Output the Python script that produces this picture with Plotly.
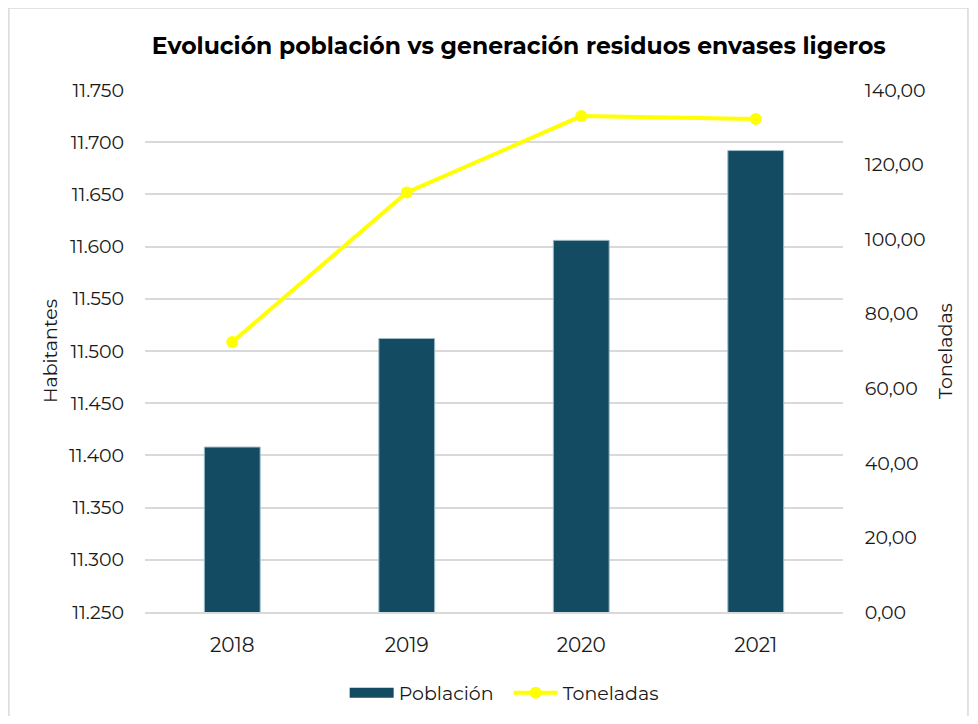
import plotly.graph_objects as go

# Data
years = ["2018", "2019", "2020", "2021"]
poblacion = [11408, 11512, 11606, 11692]
toneladas = [72.4, 112.5, 133.0, 132.2]

FONT = "Montserrat, Noto Sans, sans-serif"
BAR_COLOR = "#134B63"
LINE_COLOR = "#FFFF00"
GRID = "#D9D9D9"

fig = go.Figure()

fig.add_trace(go.Bar(
    x=years,
    y=poblacion,
    name="Población",
    marker=dict(color=BAR_COLOR, line=dict(color="#9FBCC8", width=1)),
    width=0.32,
    showlegend=False,
    yaxis="y",
))

# legend-only entry so the bar swatch is a wide block like the original
fig.add_trace(go.Scatter(
    x=[None], y=[None],
    name="Población",
    mode="lines",
    line=dict(color=BAR_COLOR, width=12),
    yaxis="y",
))

fig.add_trace(go.Scatter(
    x=years,
    y=toneladas,
    name="Toneladas",
    mode="lines+markers",
    line=dict(color=LINE_COLOR, width=4),
    marker=dict(color=LINE_COLOR, size=12),
    yaxis="y2",
))

# light frame around the whole chart
fig.add_shape(type="rect", xref="paper", yref="paper",
              x0=-0.195, x1=1.179, y0=-0.3, y1=1.157,
              line=dict(color=GRID, width=1.5), layer="below")

fig.update_layout(
    width=962,
    height=708,
    separators=",.",
    font=dict(family=FONT, color="#1a1a1a", size=19),
    title=dict(
        text="<b>Evolución población vs generación residuos envases ligeros</b>",
        x=0.531, xanchor="center", y=0.946, yanchor="middle",
        font=dict(size=23.5, color="#000000", family=FONT),
    ),
    xaxis=dict(
        showgrid=False,
        showline=True,
        linecolor=GRID,
        linewidth=1.5,
        ticks="outside",
        ticklen=14,
        tickcolor="rgba(0,0,0,0)",
        tickfont=dict(size=20),
    ),
    yaxis=dict(
        range=[11250, 11750],
        dtick=50,
        tickformat=",d",
        showgrid=True,
        gridcolor=GRID,
        gridwidth=1.5,
        zeroline=False,
        ticks="outside",
        ticklen=16,
        tickcolor="rgba(0,0,0,0)",
        title=dict(text="Habitantes", font=dict(size=19), standoff=6),
    ),
    yaxis2=dict(
        range=[0, 140],
        dtick=20,
        tickformat=",.2f",
        overlaying="y",
        side="right",
        showgrid=False,
        zeroline=False,
        ticks="outside",
        ticklen=17,
        tickcolor="rgba(0,0,0,0)",
        title=dict(text="Toneladas", font=dict(size=19), standoff=14),
    ),
    legend=dict(
        orientation="h",
        x=0.521, xanchor="center",
        y=-0.155, yanchor="middle",
        font=dict(size=19),
        traceorder="normal",
        itemwidth=44,
        entrywidth=105,
    ),
    margin=dict(l=137, r=127, t=82, b=104, autoexpand=False),
    plot_bgcolor="white",
    paper_bgcolor="white",
)

fig.write_html("out.html")
